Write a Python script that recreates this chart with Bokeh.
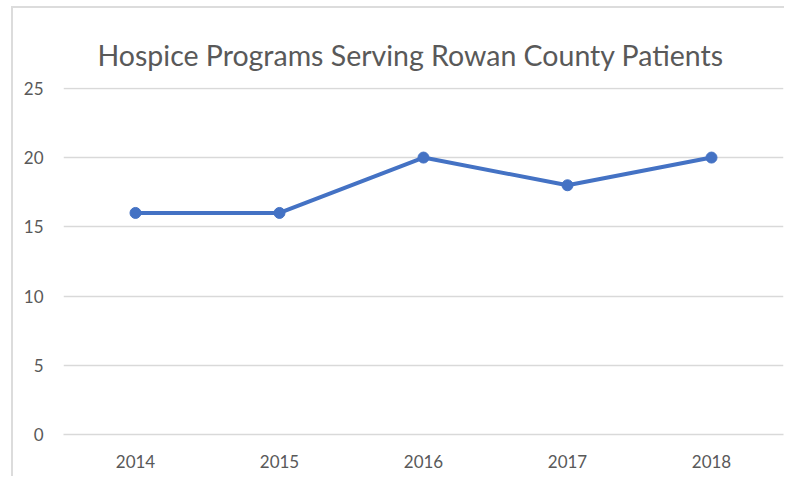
from bokeh.plotting import figure
from bokeh.models import ColumnDataSource, FixedTicker, Range1d
from bokeh.embed import file_html
from bokeh.resources import INLINE

years = ["2014", "2015", "2016", "2017", "2018"]
programs = [16, 16, 20, 18, 20]
y_ticks = [0, 5, 10, 15, 20, 25]

TEXT = "#595959"
LINE = "#4472C4"
GRID = "#d9d9d9"
FONT = "Lato"

src = ColumnDataSource(dict(year=years, programs=programs))

p = figure(x_range=years, y_range=Range1d(0, 25.06), width=784, height=476,
           output_backend="svg", toolbar_location=None,
           min_border_left=63, min_border_right=1,
           min_border_top=87, min_border_bottom=42)

p.title.text = "Hospice Programs Serving Rowan County Patients"
p.title.align = "left"
p.title.offset = 34
p.title.standoff = 31
p.title.text_font = FONT
p.title.text_font_size = "28.5px"
p.title.text_font_style = "normal"
p.title.text_color = TEXT

p.line("year", "programs", source=src, line_color=LINE, line_width=4)
p.scatter("year", "programs", source=src, size=11, fill_color=LINE, line_color=LINE)

p.outline_line_color = None
p.background_fill_color = None
p.border_fill_color = None
p.styles = {
    "background": ("linear-gradient(#dcdcdc, #dcdcdc) 11px 6px / 2px 100% no-repeat, "
                   "linear-gradient(#dcdcdc, #dcdcdc) 11px 6px / 100% 2px no-repeat, white"),
    "overflow": "hidden",
    "border": "none",
    "outline": "none",
}
p.xgrid.grid_line_color = None
p.ygrid.grid_line_color = GRID
p.ygrid.grid_line_width = 1.5
p.yaxis.ticker = FixedTicker(ticks=y_ticks)

p.yaxis.axis_line_color = None
p.yaxis.major_tick_line_color = None
p.yaxis.minor_tick_line_color = None
p.yaxis.major_label_standoff = 14
p.xaxis.axis_line_color = GRID
p.xaxis.axis_line_width = 1.5
p.xaxis.major_tick_line_color = None
p.xaxis.minor_tick_line_color = None
p.xaxis.major_label_standoff = 14
for ax in (p.xaxis, p.yaxis):
    ax.major_label_text_font = FONT
    ax.major_label_text_font_size = "17px"
    ax.major_label_text_color = TEXT

open("out.html", "w").write(file_html(p, INLINE))
